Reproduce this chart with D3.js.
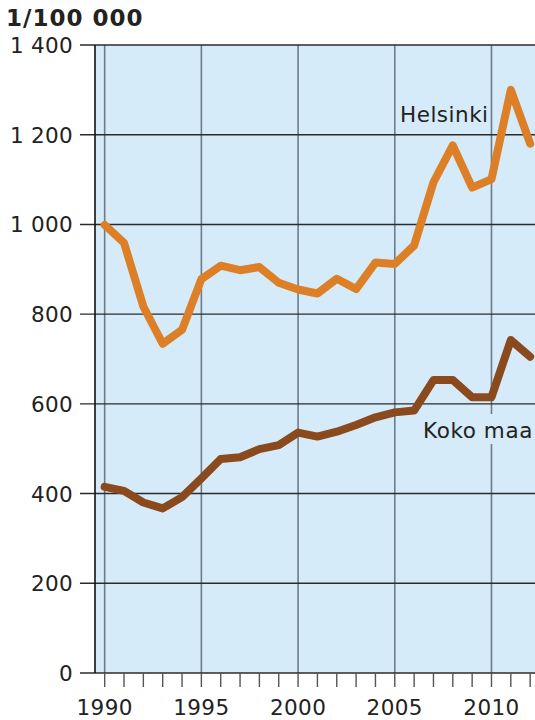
<!DOCTYPE html>
<html>
<head>
<meta charset="utf-8">
<script src="https://cdn.jsdelivr.net/npm/d3@7"></script>
<style>
    body { margin: 0; background: #fff; }
    text { font-family: 'DejaVu Sans', Verdana, sans-serif; fill: #222; }
</style>
</head>
<body>
<div id="chart"></div>
<script>
'use strict'

// Values (per 100 000).
let years = d3.range(1990, 2013);
let helsinki = [999, 959, 817, 734, 765, 878, 908, 898, 905, 870, 855, 846,
                879, 856, 915, 912, 953, 1094, 1176, 1082, 1101, 1300, 1180];
let kokoMaa = [415, 406, 380, 367, 392, 434, 477, 481, 499, 508, 536, 527,
               538, 553, 570, 581, 585, 653, 653, 615, 615, 742, 705];
let yTicks = [0, 200, 400, 600, 800, 1000, 1200, 1400];
let xMajor = [1990, 1995, 2000, 2005, 2010];
let xMinor = d3.range(1990, 2013);

let width = 535, height = 720;
let plot = {left: 95, right: 535, top: 45, bottom: 673};

let svg = d3.select('#chart')
    .append('svg')
        .attr('width', width)
        .attr('height', height);

let x = d3.scaleLinear()
    .domain([1989.5, 2012.25])
    .range([plot.left, plot.right]);

let y = d3.scaleLinear()
    .domain([0, 1400])
    .range([plot.bottom, plot.top]);

// Plot background.
svg.append('rect')
    .attr('x', plot.left)
    .attr('y', plot.top)
    .attr('width', plot.right - plot.left)
    .attr('height', plot.bottom - plot.top)
    .attr('fill', '#d5ebf9');

// Vertical grid lines.
svg.selectAll('line.vgrid')
    .data(xMajor)
    .join('line')
        .attr('class', 'vgrid')
        .attr('x1', d => x(d))
        .attr('x2', d => x(d))
        .attr('y1', plot.top)
        .attr('y2', plot.bottom)
        .attr('stroke', '#6f7b86')
        .attr('stroke-width', 1.6);

// Horizontal grid lines + y ticks.
svg.selectAll('line.hgrid')
    .data(yTicks)
    .join('line')
        .attr('class', 'hgrid')
        .attr('x1', 80)
        .attr('x2', plot.right)
        .attr('y1', d => y(d))
        .attr('y2', d => y(d))
        .attr('stroke', '#2b2b2b')
        .attr('stroke-width', 1.4);

svg.selectAll('text.ylab')
    .data(yTicks)
    .join('text')
        .attr('class', 'ylab')
        .attr('x', 73)
        .attr('y', d => y(d) + 8)
        .attr('text-anchor', 'end')
        .attr('font-size', 21.5)
        .attr('letter-spacing', 0.3)
        .text(d => d3.format(',')(d).replace(',', ' '));

// Left axis line.
svg.append('line')
    .attr('x1', plot.left)
    .attr('x2', plot.left)
    .attr('y1', plot.top)
    .attr('y2', plot.bottom)
    .attr('stroke', '#111')
    .attr('stroke-width', 1.6);

// X ticks.
svg.selectAll('line.xtick')
    .data(xMinor)
    .join('line')
        .attr('class', 'xtick')
        .attr('x1', d => x(d))
        .attr('x2', d => x(d))
        .attr('y1', plot.bottom)
        .attr('y2', plot.bottom + 14)
        .attr('stroke', '#555')
        .attr('stroke-width', 1.4);

svg.selectAll('text.xlab')
    .data(xMajor)
    .join('text')
        .attr('class', 'xlab')
        .attr('x', d => x(d))
        .attr('y', 715)
        .attr('text-anchor', 'middle')
        .attr('font-size', 21.5)
        .attr('letter-spacing', 0.4)
        .text(d => d);

// Title.
svg.append('text')
    .attr('x', 6)
    .attr('y', 26)
    .attr('font-size', 23)
    .attr('font-weight', 'bold')
    .attr('letter-spacing', 1)
    .text('1/100 000');

// Lines.
let line = d3.line()
    .x((d, i) => x(years[i]))
    .y(d => y(d));

svg.append('path')
    .datum(helsinki)
    .attr('d', line)
    .attr('fill', 'none')
    .attr('stroke', '#dc7f26')
    .attr('stroke-width', 8)
    .attr('stroke-linejoin', 'round')
    .attr('stroke-linecap', 'round');

svg.append('path')
    .datum(kokoMaa)
    .attr('d', line)
    .attr('fill', 'none')
    .attr('stroke', '#8a4a1e')
    .attr('stroke-width', 8)
    .attr('stroke-linejoin', 'round')
    .attr('stroke-linecap', 'round');

// Labels.
svg.append('rect')
    .attr('x', 420)
    .attr('y', 414)
    .attr('width', 120)
    .attr('height', 30)
    .attr('fill', '#d5ebf9');

svg.append('text')
    .attr('x', 423)
    .attr('y', 438)
    .attr('font-size', 21.5)
    .attr('letter-spacing', 0.6)
    .text('Koko maa');

svg.append('text')
    .attr('x', 400)
    .attr('y', 122)
    .attr('font-size', 21.5)
    .attr('letter-spacing', 0.5)
    .text('Helsinki');
</script>
</body>
</html>
